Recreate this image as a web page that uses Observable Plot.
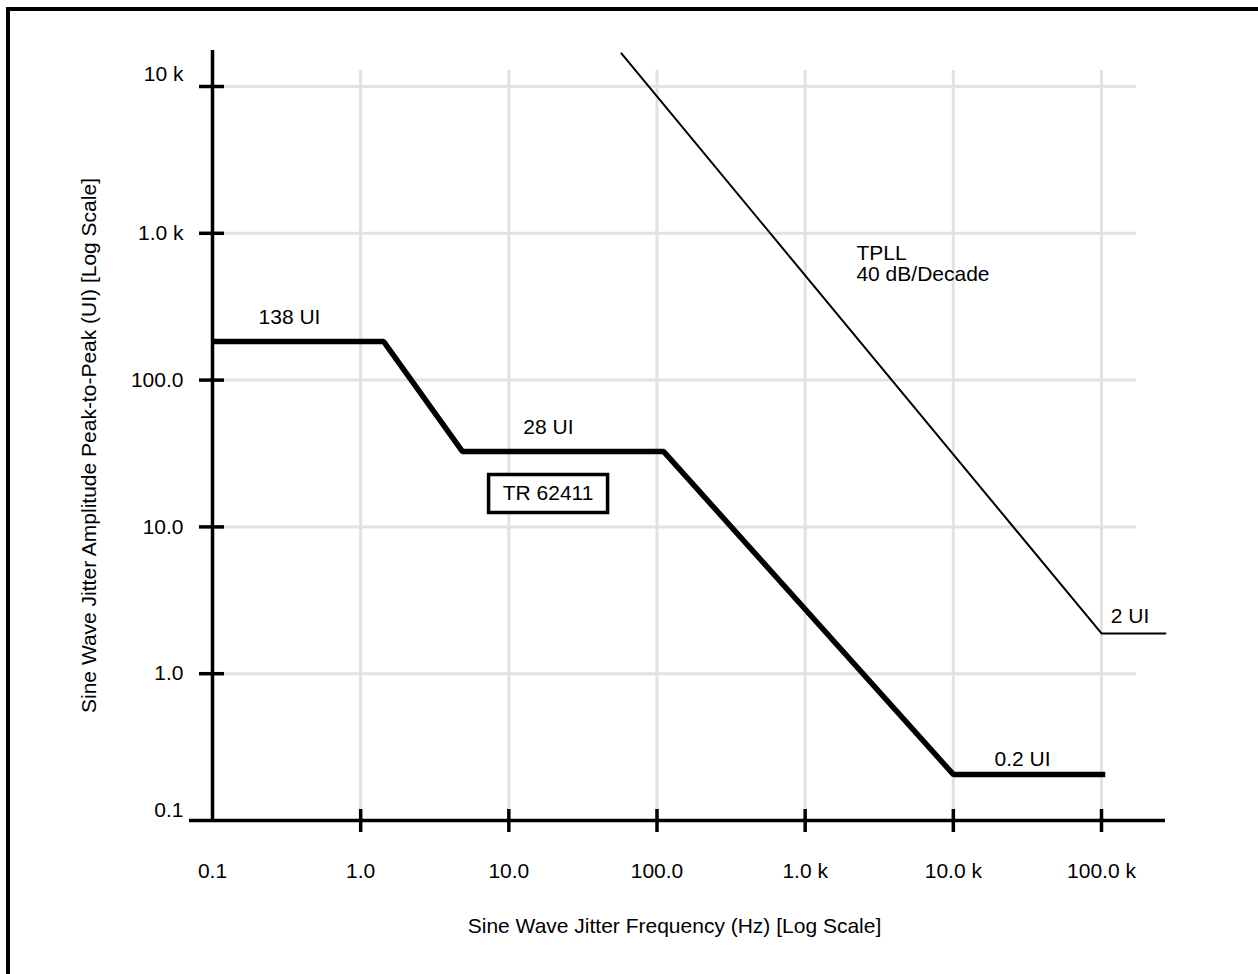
<!DOCTYPE html>
<html>
<head>
<meta charset="utf-8">
<script src="https://cdn.jsdelivr.net/npm/d3@7"></script>
<script src="https://cdn.jsdelivr.net/npm/@observablehq/plot@0.6"></script>
<style>
  html, body { margin: 0; padding: 0; background: #fff; }
  #wrap { position: relative; width: 1258px; height: 974px; overflow: hidden; }
  #frame { position: absolute; left: 6px; top: 7px; width: 1300px; height: 1000px;
           border-left: 4px solid #000; border-top: 4px solid #000; }
  #chart { position: absolute; left: 0; top: 0; }
</style>
</head>
<body>
<div id="wrap"><div id="frame"></div><div id="chart"></div></div>
<script>
// ---- data ----
const xTicks = [0.1, 1, 10, 100, 1000, 10000, 100000];
const xTickLabels = ["0.1", "1.0", "10.0", "100.0", "1.0 k", "10.0 k", "100.0 k"];
const yTicks = [0.1, 1, 10, 100, 1000, 10000];
const yTickLabels = ["0.1", "1.0", "10.0", "100.0", "1.0 k", "10 k"];

// TR 62411 mask (frequency Hz, amplitude UI)
const trFreq = [0.1, 1.43, 4.87, 111, 10000, 106000];
const trAmp  = [183, 183, 32.6, 32.6, 0.206, 0.206];

// TPLL 40 dB/decade line
const tpllFreq = [57.5, 100000, 270000];
const tpllAmp  = [16800, 1.88, 1.88];

// annotations (text, frequency, amplitude)
const noteText = ["138 UI", "28 UI", "0.2 UI", "2 UI"];
const noteFreq = [0.331, 18.5, 29300, 155600];
const noteAmp  = [267, 47.5, 0.26, 2.45];

const tpllNote = {text: "TPLL\n40 dB/Decade", freq: 2218, amp: 618};
const boxNote = {text: "TR 62411", freq: 18.4, amp: 16.9};

const xTitle = "Sine Wave Jitter Frequency (Hz) [Log Scale]";
const yTitle = "Sine Wave Jitter Amplitude Peak-to-Peak (UI) [Log Scale]";

// ---- build tables ----
const tr = trFreq.map((f, i) => ({f, a: trAmp[i]}));
const tpll = tpllFreq.map((f, i) => ({f, a: tpllAmp[i]}));
const notes = noteText.map((t, i) => ({t, f: noteFreq[i], a: noteAmp[i]}));
const xLab = xTicks.map((v, i) => ({v, t: xTickLabels[i]}));
const yLab = yTicks.map((v, i) => ({v, t: yTickLabels[i]}));

const FONT = "'Liberation Sans', Arial, Helvetica, sans-serif";
const GRID = "#e2e2e2";

const boxSymbol = { draw(ctx) { ctx.rect(-59.5, -19, 119, 38); } };

const chart = Plot.plot({
  width: 1258,
  height: 974,
  marginLeft: 212,
  marginRight: 122,
  marginTop: 70,
  marginBottom: 154,
  style: {fontFamily: FONT, fontSize: "21px", background: "transparent", color: "#000", overflow: "visible"},
  x: {type: "log", domain: [0.1, 100000], range: [212, 1101], axis: null},
  y: {type: "log", domain: [0.1, 10000], range: [820, 86], axis: null},
  marks: [
    // grid
    Plot.gridX(xTicks.slice(1), {stroke: GRID, strokeOpacity: 1, strokeWidth: 3}),
    Plot.gridY(yTicks.slice(1), {stroke: GRID, strokeOpacity: 1, strokeWidth: 3}),
    // axis lines
    Plot.ruleY([0.1], {stroke: "#000", strokeWidth: 3.5, insetLeft: -23, insetRight: -29}),
    Plot.ruleX([0.1], {stroke: "#000", strokeWidth: 3.5, insetTop: -20}),
    // tick marks
    Plot.ruleY(yTicks.slice(1), {x1: 0.1, x2: 0.1, stroke: "#000", strokeWidth: 3.5, insetLeft: -13, insetRight: -12}),
    Plot.ruleX(xTicks.slice(1), {y1: 0.1, y2: 0.1, stroke: "#000", strokeWidth: 3.5, insetTop: -11, insetBottom: -12}),
    // tick labels
    Plot.text(xLab, {x: "v", text: "t", frameAnchor: "bottom", lineAnchor: "middle", textAnchor: "middle", dy: 51, fill: "#000"}),
    Plot.text(yLab.filter(d => d.v > 0.1 && d.v < 10000), {y: "v", text: "t", frameAnchor: "left", textAnchor: "end", lineAnchor: "middle", dx: -29, fill: "#000"}),
    Plot.text(yLab.filter(d => d.v === 10000), {y: "v", text: "t", frameAnchor: "left", textAnchor: "end", lineAnchor: "middle", dx: -29, dy: -12, fill: "#000"}),
    Plot.text(yLab.filter(d => d.v === 0.1), {y: "v", text: "t", frameAnchor: "left", textAnchor: "end", lineAnchor: "middle", dx: -29, dy: -10, fill: "#000"}),
    // axis titles
    Plot.text([xTitle], {text: d => d, frameAnchor: "bottom", lineAnchor: "middle", textAnchor: "middle", dy: 106, fill: "#000"}),
    Plot.text([yTitle], {text: d => d, frameAnchor: "left", textAnchor: "middle", lineAnchor: "middle", dx: -123, rotate: -90, fill: "#000"}),
    // data lines
    Plot.line(tpll, {x: "f", y: "a", stroke: "#000", strokeWidth: 2, strokeLinejoin: "miter"}),
    Plot.line(tr, {x: "f", y: "a", stroke: "#000", strokeWidth: 5.5, strokeLinejoin: "miter", strokeLinecap: "butt"}),
    // annotations
    Plot.text(notes, {x: "f", y: "a", text: "t", fill: "#000"}),
    Plot.text([tpllNote], {x: "freq", y: "amp", text: "text", textAnchor: "start", lineHeight: 1.0, fill: "#000"}),
    Plot.dot([boxNote], {x: "freq", y: "amp", symbol: boxSymbol, r: 10, fill: "#fff", stroke: "#000", strokeWidth: 3.5}),
    Plot.text([boxNote], {x: "freq", y: "amp", text: "text", fill: "#000"})
  ]
});
document.getElementById("chart").appendChild(chart);
</script>
</body>
</html>
